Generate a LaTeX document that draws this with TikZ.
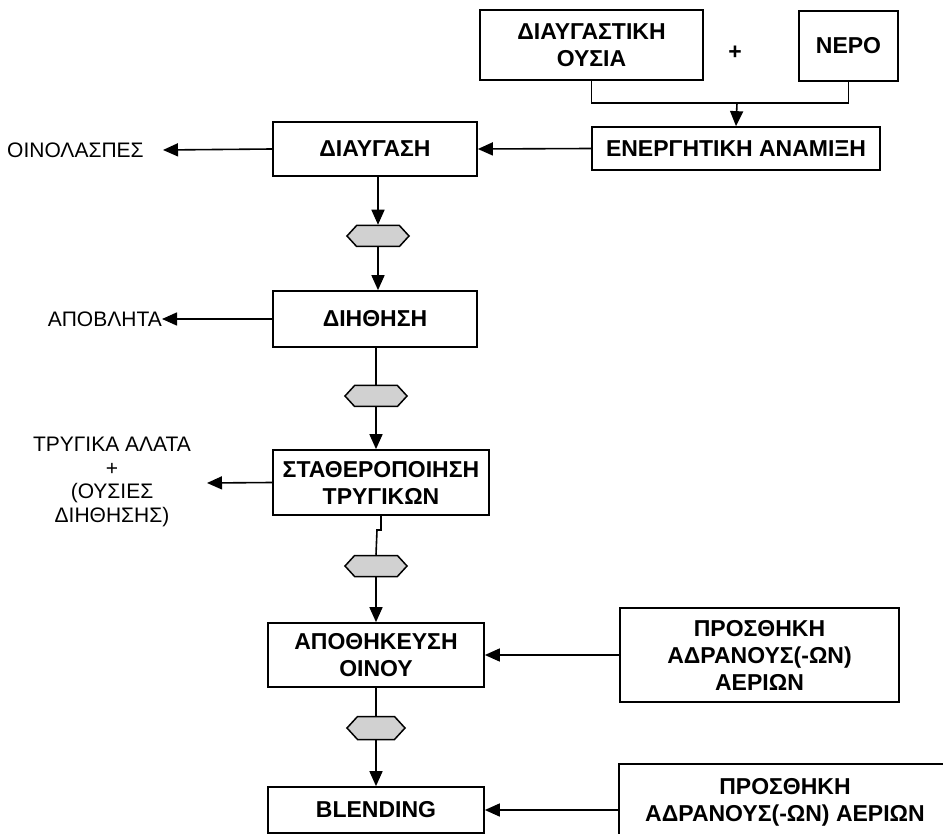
\documentclass[tikz,border=0pt]{standalone}
\usepackage{fontspec}
\setmainfont{Liberation Sans}
\usetikzlibrary{arrows.meta,shapes.symbols}
\tikzset{
  box/.style={draw, line width=1.7pt, rectangle, inner sep=0pt, align=center,
    font=\bfseries\fontsize{23}{27}\selectfont},
  lbl/.style={inner sep=0pt, align=center, font=\fontsize{21}{23.5}\selectfont},
  hexa/.style={signal, signal to=east and west, draw, line width=1.5pt, fill=black!18,
    inner sep=0pt, minimum width=62pt, minimum height=21pt, signal pointer angle=95},
  arr/.style={-{Triangle[length=15pt,width=13pt]}, line width=1.6pt},
  ln/.style={line width=1.6pt}
}
\begin{document}
\begin{tikzpicture}[x=1pt,y=-1pt]
\useasboundingbox[fill=white] (0,0) rectangle (943,834);
\clip (0,0) rectangle (943,834);
% top inputs
\node[box, minimum width=223pt, minimum height=70pt] (ousia) at (591.5,45) {ΔΙΑΥΓΑΣΤΙΚΗ\\ΟΥΣΙΑ};
\node[inner sep=0pt, font=\bfseries\fontsize{23}{27}\selectfont] (plus) at (735,53) {+};
\node[box, minimum width=99pt, minimum height=70pt] (nero) at (848.5,46) {ΝΕΡΟ};
\node[box, minimum width=288pt, minimum height=43pt] (anamixi) at (736,148.5) {ΕΝΕΡΓΗΤΙΚΗ ΑΝΑΜΙΞΗ};
\coordinate (mix) at (737,103);
% main column
\node[box, minimum width=204pt, minimum height=54pt] (diaygasi) at (375,149) {ΔΙΑΥΓΑΣΗ};
\node[lbl, anchor=west] (oinolaspes) at (7,150) {ΟΙΝΟΛΑΣΠΕΣ};
\coordinate (oinotip) at (163,150);
\node[hexa] (hex1) at (378,236) {};
\node[box, minimum width=204pt, minimum height=56pt] (diithisi) at (375,319) {ΔΙΗΘΗΣΗ};
\node[lbl, anchor=east] (apovlita) at (162,319) {ΑΠΟΒΛΗΤΑ};
\node[hexa] (hex2) at (376,396) {};
\node[box, minimum width=216pt, minimum height=65pt] (stath) at (381,482.5) {ΣΤΑΘΕΡΟΠΟΙΗΣΗ\\ΤΡΥΓΙΚΩΝ};
\node[lbl] (trygika) at (112,482) {ΤΡΥΓΙΚΑ ΑΛΑΤΑ\\+\\(ΟΥΣΙΕΣ\\ΔΙΗΘΗΣΗΣ)};
\coordinate (trygtip) at (207,483);
\coordinate (jog) at (377,530);
\node[hexa] (hex3) at (376,566) {};
\node[box, minimum width=216pt, minimum height=64pt] (apothik) at (376,655) {ΑΠΟΘΗΚΕΥΣΗ\\ΟΙΝΟΥ};
\node[box, minimum width=279pt, minimum height=94pt] (prost1) at (759.5,655) {ΠΡΟΣΘΗΚΗ\\ΑΔΡΑΝΟΥΣ(-ΩΝ)\\ΑΕΡΙΩΝ};
\node[hexa, minimum width=58pt, minimum height=23pt] (hex4) at (376,728) {};
\node[box, minimum width=216pt, minimum height=46pt] (blending) at (376,810) {BLENDING};
\node[box, minimum width=332pt, minimum height=76pt] (prost2) at (785,802) {ΠΡΟΣΘΗΚΗ\\ΑΔΡΑΝΟΥΣ(-ΩΝ) ΑΕΡΙΩΝ};
% connectors
\draw[ln] (ousia.south) |- (mix) -| (nero.south);
\draw[arr] (mix) -- (anamixi.north);
\draw[arr] (anamixi.west) -- (diaygasi.east);
\draw[arr] (diaygasi.west) -- (oinotip);
\draw[arr] (diaygasi.south -| hex1.north) -- (hex1.north);
\draw[arr] (hex1.south) -- (hex1.south |- diithisi.north);
\draw[arr] (diithisi.west) -- (apovlita.east);
\draw[ln] (hex2.north |- diithisi.south) -- (hex2.north);
\draw[arr] (hex2.south) -- (hex2.south |- stath.north);
\draw[arr] (stath.west) -- (trygtip);
\draw[ln] (stath.south) |- (jog) -- (hex3.north);
\draw[arr] (hex3.south) -- (apothik.north);
\draw[arr] (prost1.west) -- (apothik.east);
\draw[ln] (apothik.south) -- (hex4.north);
\draw[arr] (hex4.south) -- (blending.north);
\draw[arr] (prost2.west |- blending.east) -- (blending.east);
\end{tikzpicture}
\end{document}
